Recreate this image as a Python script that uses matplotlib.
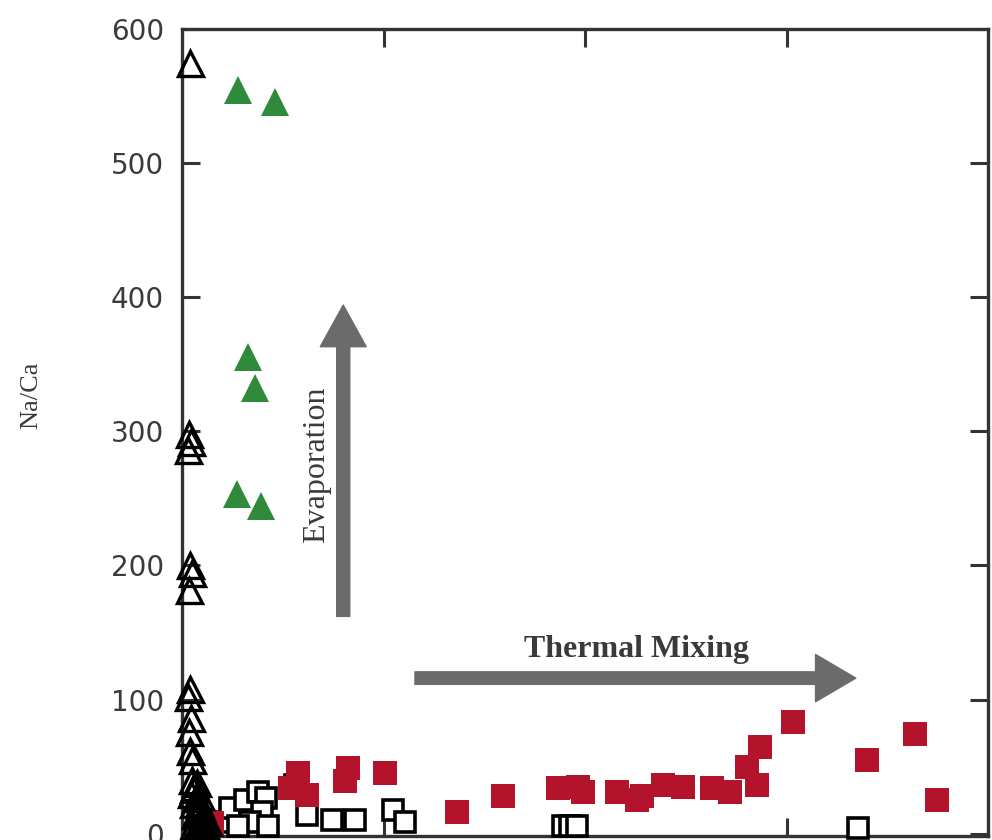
import matplotlib
matplotlib.use("Agg")
import matplotlib.pyplot as plt

# open triangles (black) hugging the y axis
tri_open_x = [20, 18, 22, 16, 20, 24, 18, 20, 16, 22, 18, 20, 24,
              25, 30, 22, 35, 28, 40, 32, 45, 26, 38, 50, 30,
              42, 55, 34, 48, 60, 27, 36, 52, 44, 65]
tri_open_y = [574, 298, 292, 286, 200, 194, 182, 108, 102, 86, 76, 62, 55,
              40, 35, 30, 27, 22, 18, 14, 10, 6, 3, 8, 1,
              24, 12, 16, 20, 5, 33, 38, 15, 28, 9]

# filled triangles (green)
tri_green_x = [139, 231, 164, 181, 136, 196]
tri_green_y = [554, 545, 355, 332, 253, 244]

# open squares (black)
sq_open_x = [57, 94, 119, 156, 189, 208, 199, 169, 213, 139,
             280, 310, 372, 429, 524, 553, 945, 963, 980, 1677]
sq_open_y = [4.5, 9, 19, 25, 31, 27, 16, 9, 6, 6,
             36, 14, 10, 10, 18, 9, 6, 6, 6, 4.5]

# filled squares (red)
sq_red_x = [74, 268, 288, 310, 404, 412, 504, 682, 796, 933, 983, 995,
            1079, 1129, 1141, 1193, 1243, 1315, 1360, 1402, 1434, 1427,
            1516, 1700, 1819, 1873]
sq_red_y = [8, 34, 45, 29, 39, 49, 45, 16, 28, 34, 35, 31,
            31, 25, 28, 36, 35, 34, 31, 50, 65, 36,
            83, 55, 74, 25]

fig = plt.figure(figsize=(9.92, 8.4), dpi=100)
ax = fig.add_axes([0.1835, 0.005, 0.8125, 0.961])

ax.plot(sq_open_x, sq_open_y, 's', ms=15, mfc='white', mec='black', mew=2.6,
        ls='none', clip_on=False, zorder=3)
ax.plot(sq_red_x, sq_red_y, 's', ms=17, color='#b3142b', mec='#b3142b', mew=0,
        ls='none', clip_on=False, zorder=4)
ax.plot(tri_open_x, tri_open_y, '^', ms=18, mfc='none', mec='black', mew=2.4,
        ls='none', clip_on=False, zorder=5)
ax.plot(tri_green_x, tri_green_y, '^', ms=20, color='#2f8a3c', mew=0,
        ls='none', clip_on=False, zorder=5)

arrow_col = '#6b6b6b'
ax.annotate('', xy=(400, 394), xytext=(400, 162),
            arrowprops=dict(arrowstyle='simple,head_length=1.5,head_width=1.65,tail_width=0.47',
                            mutation_scale=20, color=arrow_col, shrinkA=0, shrinkB=0))
ax.annotate('', xy=(1672, 116), xytext=(578, 116),
            arrowprops=dict(arrowstyle='simple,head_length=1.45,head_width=1.7,tail_width=0.45',
                            mutation_scale=20, color=arrow_col, shrinkA=0, shrinkB=0))

ax.text(335, 275, 'Evaporation', rotation=90, ha='center', va='center',
        fontsize=23, family='Liberation Serif', color='#3a3a3a')
ax.text(1127, 137, 'Thermal Mixing', ha='center', va='center',
        fontsize=23, family='Liberation Serif', fontweight='bold', color='#3a3a3a')

ax.set_xlim(0, 2000)
ax.set_ylim(-1.5, 600)
ax.set_xticks([500, 1000, 1500])
ax.set_yticks([0, 100, 200, 300, 400, 500, 600])
ax.tick_params(axis='both', direction='in', length=13, width=2.2, color='#333333',
               top=True, right=True, labelsize=20, labelcolor='#3a3a3a', pad=13)
ax.tick_params(axis='x', labelbottom=False)
for sp in ax.spines.values():
    sp.set_linewidth(2.4)
    sp.set_color('#333333')

ax.set_ylabel('Na/Ca', fontsize=19, family='Liberation Serif', color='#3a3a3a')
ax.yaxis.set_label_coords(-0.174, 0.546)

fig.savefig('out.png', dpi=100)
